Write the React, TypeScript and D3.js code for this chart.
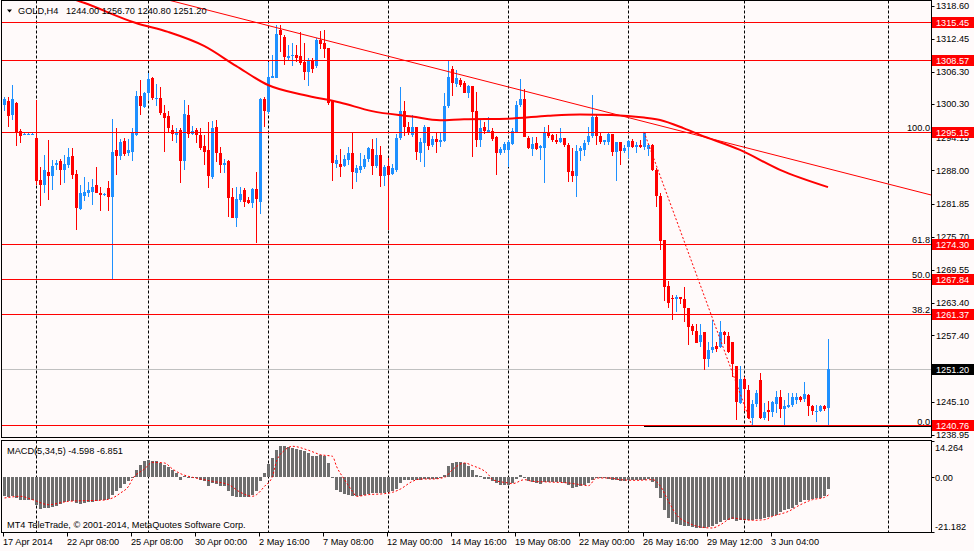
import React from 'react';
import * as d3 from 'd3';

// GOLD H4, 17 Apr - 4 Jun 2014, one entry per bar
const OPEN = [
  1300.1, 1300.9, 1298.3, 1300.6, 1295.4, 1294.8, 1294.8, 1294.8, 1294.0, 1286.2,
  1285.3, 1287.7, 1287.0, 1289.0, 1289.8, 1288.1, 1289.0, 1290.7, 1287.3, 1280.9,
  1283.3, 1283.8, 1284.0, 1285.3, 1283.8, 1283.6, 1284.8, 1283.1, 1291.8, 1290.7,
  1293.5, 1291.3, 1291.4, 1294.6, 1301.8, 1299.8, 1302.3, 1305.1, 1301.4, 1301.4,
  1298.7, 1298.1, 1295.5, 1294.5, 1295.5, 1289.8, 1298.3, 1294.8, 1295.5, 1294.5,
  1292.5, 1291.8, 1286.7, 1296.0, 1291.3, 1289.1, 1289.8, 1283.1, 1279.2, 1282.5,
  1284.4, 1282.5, 1282.0, 1284.5, 1282.2, 1301.3, 1298.9, 1305.1, 1305.2, 1314.1,
  1312.8, 1308.8, 1309.2, 1309.4, 1309.2, 1308.2, 1306.3, 1308.5, 1307.4, 1312.2,
  1311.6, 1310.7, 1300.9, 1289.2, 1289.2, 1288.9, 1289.9, 1291.3, 1287.6, 1288.1,
  1288.7, 1290.1, 1292.0, 1288.8, 1290.9, 1287.0, 1288.8, 1287.3, 1288.1, 1294.0,
  1299.0, 1296.1, 1294.6, 1296.1, 1291.3, 1293.0, 1296.1, 1292.7, 1293.8, 1293.3,
  1293.5, 1300.0, 1306.8, 1304.0, 1304.8, 1304.2, 1302.4, 1303.6, 1299.1, 1293.7,
  1296.0, 1295.2, 1295.4, 1294.2, 1291.2, 1291.8, 1291.8, 1292.9, 1295.2, 1300.1,
  1301.2, 1294.0, 1291.9, 1293.0, 1292.1, 1292.1, 1295.2, 1294.5, 1293.7, 1293.2,
  1294.1, 1292.7, 1287.9, 1287.0, 1291.6, 1291.8, 1293.2, 1294.3, 1298.0, 1294.3,
  1293.3, 1293.2, 1294.7, 1291.5, 1293.3, 1291.6, 1292.4, 1293.5, 1292.3, 1292.7,
  1292.4, 1292.0, 1292.7, 1288.1, 1283.3, 1275.1, 1266.6, 1264.4, 1264.1, 1264.6,
  1264.1, 1262.4, 1259.1, 1258.3, 1256.2, 1258.1, 1253.0, 1254.7, 1255.4, 1255.3,
  1258.1, 1257.3, 1256.2, 1251.7, 1244.8, 1249.3, 1247.3, 1242.0, 1244.7, 1249.1,
  1242.0, 1243.6, 1243.1, 1244.7, 1246.0, 1243.7, 1244.2, 1244.5, 1245.4, 1246.0,
  1245.6, 1246.3, 1244.3, 1243.3, 1243.3, 1244.3, 1244.0,
];
const HIGH = [
  1301.7, 1301.6, 1303.9, 1300.7, 1295.7, 1294.9, 1294.9, 1294.9, 1301.1, 1288.6,
  1290.9, 1293.7, 1289.9, 1289.9, 1290.1, 1290.9, 1292.1, 1292.1, 1288.1, 1285.3,
  1286.7, 1285.9, 1286.5, 1288.6, 1285.0, 1283.9, 1286.1, 1297.6, 1295.8, 1293.8,
  1294.0, 1293.8, 1295.8, 1302.8, 1304.7, 1302.6, 1306.0, 1305.4, 1304.0, 1303.4,
  1300.1, 1299.1, 1296.4, 1295.8, 1295.8, 1301.1, 1300.1, 1296.2, 1295.8, 1295.8,
  1294.5, 1296.9, 1297.2, 1297.4, 1292.4, 1290.1, 1289.9, 1284.7, 1284.9, 1284.9,
  1284.7, 1283.0, 1284.7, 1287.8, 1301.4, 1301.7, 1308.1, 1309.4, 1315.0, 1315.0,
  1313.1, 1311.3, 1311.6, 1311.3, 1313.6, 1311.6, 1308.8, 1308.8, 1312.5, 1313.8,
  1314.1, 1310.7, 1301.1, 1290.9, 1292.0, 1290.9, 1292.4, 1295.1, 1289.0, 1291.3,
  1290.9, 1292.4, 1293.8, 1294.0, 1292.6, 1289.0, 1290.3, 1289.2, 1294.7, 1303.5,
  1300.8, 1297.0, 1298.3, 1296.1, 1294.0, 1296.4, 1296.1, 1294.3, 1295.2, 1295.2,
  1302.3, 1308.5, 1307.3, 1306.6, 1305.1, 1304.5, 1303.9, 1303.6, 1302.6, 1297.4,
  1297.0, 1297.9, 1295.8, 1294.3, 1292.3, 1293.3, 1293.7, 1295.8, 1300.8, 1304.9,
  1303.1, 1294.3, 1294.2, 1294.2, 1292.7, 1296.1, 1296.4, 1294.7, 1294.7, 1295.8,
  1294.1, 1293.0, 1292.1, 1292.7, 1292.6, 1293.7, 1296.1, 1302.0, 1298.3, 1294.9,
  1293.7, 1294.9, 1294.7, 1293.3, 1293.3, 1292.7, 1293.7, 1293.8, 1293.3, 1293.7,
  1295.0, 1292.9, 1292.9, 1288.4, 1283.8, 1275.1, 1267.4, 1264.9, 1264.9, 1264.6,
  1266.4, 1262.4, 1259.6, 1259.6, 1259.6, 1258.1, 1256.2, 1260.3, 1256.2, 1260.1,
  1258.3, 1258.1, 1256.2, 1251.7, 1251.7, 1249.7, 1248.2, 1245.4, 1247.3, 1250.4,
  1244.8, 1245.3, 1245.3, 1247.0, 1247.3, 1245.4, 1246.7, 1246.7, 1246.7, 1246.2,
  1248.8, 1246.5, 1244.5, 1244.5, 1244.5, 1244.5, 1256.7,
];
const LOW = [
  1299.1, 1296.0, 1297.4, 1292.6, 1293.0, 1294.6, 1294.7, 1294.7, 1285.3, 1281.4,
  1283.9, 1282.5, 1284.4, 1288.1, 1285.3, 1285.6, 1288.4, 1286.5, 1277.0, 1280.7,
  1282.3, 1283.1, 1281.6, 1283.8, 1280.4, 1283.3, 1280.5, 1267.9, 1287.2, 1289.9,
  1290.6, 1290.7, 1289.8, 1294.3, 1298.2, 1299.5, 1301.1, 1301.1, 1300.0, 1298.3,
  1291.5, 1294.9, 1293.5, 1293.1, 1285.7, 1288.0, 1294.0, 1294.5, 1293.0, 1291.8,
  1289.0, 1284.7, 1286.5, 1289.6, 1287.5, 1287.5, 1279.3, 1279.1, 1277.5, 1282.2,
  1281.3, 1281.7, 1281.1, 1274.5, 1279.9, 1296.1, 1298.4, 1305.1, 1305.1, 1310.0,
  1307.6, 1308.5, 1307.4, 1308.2, 1307.6, 1304.8, 1303.7, 1306.0, 1307.0, 1310.5,
  1308.9, 1300.1, 1286.0, 1288.5, 1286.7, 1288.7, 1289.0, 1284.5, 1285.9, 1287.6,
  1288.3, 1289.6, 1287.2, 1288.4, 1285.0, 1285.2, 1277.0, 1287.2, 1287.8, 1293.7,
  1294.3, 1294.5, 1294.2, 1289.9, 1289.6, 1288.6, 1291.8, 1292.3, 1291.2, 1292.4,
  1293.3, 1299.6, 1301.8, 1303.5, 1303.5, 1302.3, 1301.4, 1290.4, 1292.4, 1292.3,
  1294.8, 1295.0, 1293.5, 1287.2, 1290.9, 1291.3, 1288.7, 1292.7, 1295.0, 1299.8,
  1294.2, 1291.9, 1290.6, 1291.8, 1289.9, 1285.6, 1294.0, 1293.3, 1292.9, 1293.0,
  1292.4, 1285.8, 1285.9, 1283.0, 1289.8, 1290.6, 1292.7, 1294.0, 1292.7, 1292.9,
  1292.7, 1292.7, 1290.6, 1286.1, 1289.0, 1291.2, 1290.3, 1292.1, 1291.2, 1292.1,
  1291.8, 1290.6, 1287.9, 1281.3, 1273.3, 1263.8, 1262.4, 1260.3, 1261.8, 1263.2,
  1259.9, 1255.6, 1257.5, 1255.9, 1255.3, 1251.0, 1251.5, 1254.1, 1254.4, 1255.0,
  1255.8, 1254.1, 1249.7, 1241.7, 1244.7, 1243.3, 1241.8, 1240.8, 1244.2, 1241.8,
  1241.7, 1241.6, 1242.2, 1243.0, 1242.0, 1240.8, 1243.9, 1244.2, 1244.7, 1245.1,
  1245.1, 1242.5, 1242.6, 1241.4, 1243.1, 1243.4, 1240.8,
];
const CLOSE = [
  1301.2, 1298.1, 1301.3, 1295.1, 1294.4, 1294.8, 1294.8, 1294.8, 1286.1, 1285.3,
  1288.0, 1287.0, 1288.8, 1289.4, 1288.0, 1289.2, 1290.4, 1287.2, 1281.1, 1283.9,
  1284.0, 1284.4, 1284.9, 1283.9, 1283.4, 1283.6, 1283.0, 1291.5, 1290.7, 1293.3,
  1291.1, 1291.8, 1294.9, 1301.8, 1300.0, 1302.3, 1305.0, 1301.4, 1301.5, 1298.7,
  1297.8, 1295.9, 1294.7, 1295.2, 1289.8, 1298.5, 1294.8, 1295.3, 1294.5, 1292.2,
  1291.5, 1286.9, 1295.9, 1291.2, 1289.0, 1289.4, 1282.9, 1279.2, 1282.7, 1283.6,
  1282.2, 1282.0, 1284.5, 1282.7, 1301.3, 1299.0, 1305.4, 1305.6, 1313.4, 1313.1,
  1309.1, 1309.2, 1309.4, 1308.9, 1308.0, 1306.3, 1308.3, 1306.8, 1312.2, 1311.4,
  1310.5, 1300.5, 1289.4, 1289.9, 1288.7, 1290.1, 1291.3, 1287.7, 1288.4, 1288.9,
  1290.1, 1292.1, 1288.8, 1290.9, 1287.0, 1288.7, 1287.2, 1288.4, 1294.0, 1299.0,
  1296.1, 1294.9, 1296.1, 1291.5, 1293.3, 1296.1, 1292.5, 1293.8, 1293.3, 1293.7,
  1300.0, 1305.4, 1304.2, 1305.1, 1303.9, 1302.4, 1303.7, 1298.9, 1293.7, 1295.8,
  1295.4, 1295.5, 1293.8, 1291.2, 1292.0, 1292.9, 1293.3, 1295.3, 1300.1, 1301.2,
  1294.2, 1292.1, 1292.9, 1292.0, 1292.5, 1295.0, 1294.3, 1293.7, 1293.2, 1294.1,
  1292.7, 1287.8, 1287.0, 1291.6, 1292.1, 1293.0, 1294.3, 1298.0, 1294.3, 1293.2,
  1293.6, 1294.7, 1291.5, 1293.3, 1291.6, 1292.2, 1293.5, 1292.4, 1292.7, 1292.4,
  1295.0, 1292.7, 1288.1, 1283.3, 1274.9, 1266.4, 1263.4, 1264.1, 1264.6, 1264.2,
  1262.4, 1259.0, 1258.3, 1256.0, 1257.5, 1253.0, 1254.7, 1255.3, 1254.9, 1258.1,
  1257.5, 1254.4, 1252.1, 1245.1, 1249.3, 1247.4, 1242.0, 1244.7, 1246.7, 1242.0,
  1243.1, 1243.1, 1245.1, 1245.9, 1243.7, 1244.3, 1244.5, 1245.9, 1246.0, 1245.4,
  1246.5, 1244.3, 1243.3, 1243.4, 1244.3, 1243.7, 1251.2,
];

// MACD(5,34,5) histogram, one value per bar
const MACD_HIST = [
  -7.40, -7.66, -7.40, -8.05, -8.70, -8.96, -8.96, -8.96, -10.65, -12.34,
  -12.08, -11.95, -11.56, -11.04, -10.26, -9.74, -9.35, -9.35, -10.00, -10.26,
  -10.00, -9.74, -9.48, -9.22, -8.96, -8.70, -8.44, -6.75, -5.45, -4.16,
  -2.47, -1.56, 0.13, 2.73, 4.94, 6.23, 6.88, 6.49, 6.23, 5.58,
  4.94, 4.03, 2.99, 1.69, -1.17, 0.39, 0.13, 0.00, -0.39, -0.91,
  -1.56, -3.25, -2.21, -2.47, -3.25, -3.51, -5.45, -7.40, -7.79, -7.79,
  -7.66, -7.66, -6.75, -5.45, -1.56, 1.69, 5.32, 7.53, 10.78, 12.34,
  12.34, 11.82, 11.43, 11.04, 10.52, 10.13, 9.48, 8.18, 8.44, 8.83,
  8.18, 5.58, -0.26, -4.81, -5.84, -6.36, -6.75, -7.14, -7.40, -7.14,
  -6.75, -6.36, -6.10, -6.10, -6.10, -6.10, -5.84, -5.45, -4.55, -2.21,
  -1.17, -0.91, -0.91, -1.17, -0.91, -0.65, -0.65, -0.65, -0.65, -0.26,
  1.04, 4.29, 5.58, 5.97, 5.84, 5.58, 4.55, 2.99, 1.04, 0.39,
  -0.65, -0.65, -1.56, -2.21, -2.86, -2.86, -2.86, -2.21, -0.65, 1.04,
  -0.26, -1.56, -1.95, -2.21, -2.47, -1.95, -1.95, -1.95, -1.95, -1.95,
  -2.21, -2.86, -4.16, -3.77, -3.25, -2.86, -2.21, -0.91, -0.26, -0.26,
  -0.26, -0.65, -1.17, -1.17, -1.56, -1.56, -1.17, -1.17, -0.91, -0.91,
  -0.91, -0.65, -1.95, -4.16, -8.05, -12.60, -15.84, -17.53, -18.05, -18.44,
  -18.83, -19.09, -19.35, -19.74, -19.74, -19.87, -19.48, -18.83, -18.05, -17.53,
  -16.75, -16.49, -16.23, -17.14, -16.75, -16.49, -16.75, -16.49, -16.23, -16.23,
  -15.84, -15.45, -14.94, -14.55, -13.64, -12.86, -12.34, -11.95, -10.65, -9.74,
  -8.96, -8.70, -8.44, -8.05, -8.05, -7.40, -4.598,
];

// signal line, read at [bar, value]
const MACD_SIGNAL: [number, number][] = [
  [0, -8.05], [4, -7.4], [7, -8.7], [11, -10.65], [16, -9.35], [20, -9.09], [24, -8.96],
  [27, -8.05], [29, -6.1], [31, -3.51], [32, -0.65], [35, 3.25], [37, 5.84], [40, 5.58],
  [42, 3.25], [44, 1.43], [47, 0], [49, -0.65], [52, -1.56], [56, -2.86], [59, -5.84],
  [62, -7.4], [63, -6.75], [65, -3.51], [67, 0.39], [68, 6.23], [70, 10.52], [72, 12.08],
  [76, 10.52], [79, 8.83], [82, 8.18], [83, 4.29], [85, -0.91], [87, -5.45], [88, -7.4],
  [91, -6.75], [95, -6.36], [97, -5.84], [99, -4.55], [102, -1.56], [104, -0.65], [107, -0.65],
  [110, 0], [112, 2.99], [115, 5.58], [117, 4.55], [121, 1.04], [122, -0.91], [126, -2.21],
  [127, -2.47], [130, -0.91], [132, -1.56], [136, -1.82], [141, -2.21], [144, -2.86], [146, -3.25],
  [148, -0.26], [151, -0.26], [154, -0.91], [158, -1.17], [162, -0.91], [164, -3.51], [166, -9.35],
  [168, -14.55], [171, -17.79], [174, -19.35], [177, -19.74], [179, -18.44], [182, -15.84],
  [184, -16.23], [187, -16.75], [190, -16.49], [192, -15.19], [196, -13.25], [199, -10.65],
  [202, -8.7], [205, -7.79], [206, -6.851],
];

// moving average, read at [bar, price]
const MA_POINTS: [number, number][] = [
  [0, 1323.7], [20, 1319.1], [33, 1315.35], [41, 1313.7], [50, 1311.1],
  [58, 1307.4], [66, 1303.85], [75, 1302.0], [84, 1300.6],
  [92, 1299.0], [102, 1298.0], [109, 1297.3], [115, 1297.5], [126, 1297.6], [136, 1298.15],
  [144, 1298.4], [152, 1298.3], [160, 1297.8], [164, 1297.35], [170, 1295.8], [174, 1294.6],
  [184, 1291.8], [194, 1288.1], [206, 1284.9],
];

const TREND_LINE: [number, number][] = [[67, 1314.7], [232, 1283.4]];
const FIBO_START: [number, number] = [160, 1295.15];
const FIBO_END: [number, number] = [187, 1240.6];
const FIBO_LEVELS = [0, 38.2, 50, 61.8, 100];

const LEVEL_LINES = [1315.45, 1308.57, 1295.15, 1274.3, 1267.84, 1261.37, 1240.76];
const BID = 1251.2;

const PRICE_TICKS = [
  1318.6, 1312.45, 1306.3, 1300.3, 1294.15, 1288.0, 1281.85,
  1275.7, 1269.55, 1263.4, 1257.4, 1245.1, 1238.95,
];
const MACD_TICKS = [14.264, 0, -21.182];
const MACD_TICK_LABELS = ['14.264', '0.00', '-21.182'];

const GRID_BARS = [8, 36, 66, 96, 126, 156, 185, 221];
const TIME_BARS = [0, 16, 32, 48, 64, 80, 96, 112, 128, 144, 160, 176, 192];
const TIME_LABELS = [
  '17 Apr 2014', '22 Apr 08:00', '25 Apr 08:00', '30 Apr 00:00', '2 May 16:00',
  '7 May 08:00', '12 May 00:00', '14 May 16:00', '19 May 08:00', '22 May 00:00',
  '26 May 16:00', '29 May 12:00', '3 Jun 04:00',
];

const W = 974;
const H = 551;
const PLOT_LEFT = 1.5;
const PLOT_RIGHT = 931.5;
const MAIN_TOP = 0.5;
const MAIN_BOTTOM = 437.5;
const MACD_TOP = 440.5;
const MACD_BOTTOM = 532.5;

const BULL = '#1E90FF';
const BEAR = '#FF0000';
const BG = '#FFFAFA';
const FONT = '"Liberation Sans", Arial, sans-serif';
const FS = 9.2;

export default function App() {
  const n = CLOSE.length;
  const x = d3.scaleLinear().domain([0, n - 1]).range([4, 4 + 4 * (n - 1)]);
  const y = d3.scaleLinear().domain([1238.95, 1318.6]).range([434.8, 5.5]);
  const ym = d3.scaleLinear().domain([-21.182, 14.264]).range([531.7, 440.7]);
  const snap = (v: number) => Math.round(v) + 0.5;

  const maLine = d3.line<[number, number]>().x((d) => x(d[0])).y((d) => y(d[1])).curve(d3.curveMonotoneX);
  const sigLine = d3.line<[number, number]>().x((d) => x(d[0]) + 0.5).y((d) => ym(d[1])).curve(d3.curveMonotoneX);

  const trend = d3.scaleLinear().domain([TREND_LINE[0][0], TREND_LINE[1][0]]).range([TREND_LINE[0][1], TREND_LINE[1][1]]);
  const trendPts: [number, number][] = [0, TREND_LINE[1][0]].map((b) => [b, trend(b)]);

  const fibo = d3.interpolateNumber(FIBO_END[1], FIBO_START[1]);
  const zero = Math.round(ym(0));

  return (
    <div>
      <style>{`body{margin:0;background:${BG}}`}</style>
      <svg width={W} height={H} style={{ display: 'block', background: BG }} fontFamily={FONT} fontSize={FS}>
        <defs>
          <clipPath id="main-clip">
            <rect x={PLOT_LEFT + 0.5} y={MAIN_TOP + 0.5} width={PLOT_RIGHT - PLOT_LEFT - 1} height={MAIN_BOTTOM - MAIN_TOP - 1} />
          </clipPath>
          <clipPath id="macd-clip">
            <rect x={PLOT_LEFT + 0.5} y={MACD_TOP + 0.5} width={PLOT_RIGHT - PLOT_LEFT - 1} height={MACD_BOTTOM - MACD_TOP - 1} />
          </clipPath>
        </defs>

        {/* vertical grid */}
        {GRID_BARS.map((b) => (
          <g key={b} stroke="#000" strokeDasharray="3,2" strokeWidth={1}>
            <line x1={x(b) + 0.5} x2={x(b) + 0.5} y1={MAIN_TOP} y2={MAIN_BOTTOM} />
            <line x1={x(b) + 0.5} x2={x(b) + 0.5} y1={MACD_TOP} y2={MACD_BOTTOM} />
          </g>
        ))}

        <g clipPath="url(#main-clip)">
          {/* fibo levels */}
          {FIBO_LEVELS.map((lv) => (
            <line key={lv} x1={x(FIBO_START[0])} x2={PLOT_RIGHT} y1={snap(y(fibo(lv / 100)))} y2={snap(y(fibo(lv / 100)))} stroke="#000" strokeWidth={1} />
          ))}

          {/* bid line */}
          <line x1={PLOT_LEFT} x2={PLOT_RIGHT} y1={snap(y(BID))} y2={snap(y(BID))} stroke="#C0C0C0" strokeWidth={1} />

          {/* candles */}
          {CLOSE.map((c, i) => {
            const o = OPEN[i];
            const col = c >= o ? BULL : BEAR;
            const cx = Math.round(x(i));
            const wt = Math.round(y(HIGH[i]));
            const wb = Math.round(y(LOW[i]));
            const bt = Math.round(y(Math.max(o, c)));
            const bb = Math.round(y(Math.min(o, c)));
            return (
              <g key={i} fill={col}>
                <rect x={cx} y={wt} width={1} height={Math.max(1, wb - wt)} />
                <rect x={cx - 1} y={bt} width={3} height={Math.max(1, bb - bt)} />
              </g>
            );
          })}

          {/* moving average */}
          <path d={maLine(MA_POINTS) ?? ''} fill="none" stroke="#FF0000" strokeWidth={2} />

          {/* horizontal levels */}
          {LEVEL_LINES.map((p) => (
            <line key={p} x1={PLOT_LEFT} x2={PLOT_RIGHT} y1={snap(y(p))} y2={snap(y(p))} stroke="#FF0000" strokeWidth={1} />
          ))}

          {/* trend line */}
          <line x1={x(trendPts[0][0])} y1={y(trendPts[0][1])} x2={x(trendPts[1][0])} y2={y(trendPts[1][1])} stroke="#FF0000" strokeWidth={1} />

          {/* fibo diagonal */}
          <line x1={x(FIBO_START[0])} y1={y(FIBO_START[1])} x2={x(FIBO_END[0])} y2={y(FIBO_END[1])} stroke="#FF0000" strokeWidth={1} strokeDasharray="2,2" />

          {FIBO_LEVELS.map((lv) => (
            <text key={lv} x={PLOT_RIGHT - 1.5} y={Math.round(y(fibo(lv / 100))) - 1.5} textAnchor="end" fill="#000">
              {lv.toFixed(1)}
            </text>
          ))}
        </g>

        {/* MACD panel */}
        <g clipPath="url(#macd-clip)">
          {MACD_HIST.map((v, i) => {
            const vy = Math.round(ym(v));
            return (
              <rect key={i} x={Math.round(x(i)) - 1} y={Math.min(vy, zero)} width={3} height={Math.max(1, Math.abs(vy - zero))} fill="#6E6E6E" />
            );
          })}
          <path d={sigLine(MACD_SIGNAL) ?? ''} fill="none" stroke="#FF0000" strokeWidth={1} strokeDasharray="2,2" />
        </g>

        {/* panel frames */}
        <rect x={PLOT_LEFT} y={MAIN_TOP} width={PLOT_RIGHT - PLOT_LEFT} height={MAIN_BOTTOM - MAIN_TOP} fill="none" stroke="#000" />
        <rect x={PLOT_LEFT} y={MACD_TOP} width={PLOT_RIGHT - PLOT_LEFT} height={MACD_BOTTOM - MACD_TOP} fill="none" stroke="#000" />

        {/* price axis */}
        {PRICE_TICKS.map((p) => (
          <g key={p}>
            <line x1={PLOT_RIGHT} x2={PLOT_RIGHT + 3} y1={snap(y(p))} y2={snap(y(p))} stroke="#000" />
            <text x={936} y={y(p)} dy="0.35em" fill="#000">{p.toFixed(2)}</text>
          </g>
        ))}
        {LEVEL_LINES.map((p) => (
          <g key={p}>
            <rect x={932} y={Math.round(y(p)) - 5} width={W - 932} height={11} fill="#FF0000" />
            <text x={936} y={Math.round(y(p)) + 0.5} dy="0.35em" fill="#FFF">{p.toFixed(2)}</text>
          </g>
        ))}
        <rect x={932} y={Math.round(y(BID)) - 5} width={W - 932} height={11} fill="#000" />
        <text x={936} y={Math.round(y(BID)) + 0.5} dy="0.35em" fill="#FFF">{BID.toFixed(2)}</text>

        {/* macd axis */}
        {MACD_TICKS.map((v, k) => (
          <g key={v}>
            <line x1={PLOT_RIGHT} x2={PLOT_RIGHT + 3} y1={snap(ym(v))} y2={snap(ym(v))} stroke="#000" />
            <text x={935} y={k === 0 ? ym(v) + 10.5 : k === 2 ? ym(v) - 1.5 : ym(v)} dy={k === 1 ? '0.35em' : 0} fill="#000">
              {MACD_TICK_LABELS[k]}
            </text>
          </g>
        ))}

        {/* time axis */}
        {TIME_BARS.map((b, k) => (
          <g key={b}>
            <line x1={x(b) - 0.5} x2={x(b) - 0.5} y1={MACD_BOTTOM} y2={MACD_BOTTOM + 4} stroke="#000" />
            <text x={x(b) - 1} y={545} fill="#000">{TIME_LABELS[k]}</text>
          </g>
        ))}

        {/* header */}
        <path d="M7,9.5 L12,9.5 L9.5,12.5 Z" fill="#000" />
        <text x={18} y={14} fill="#000">GOLD,H4</text>
        <text x={66} y={14} fill="#000">
          {`${OPEN[n - 1].toFixed(2)} ${HIGH[n - 1].toFixed(2)} ${LOW[n - 1].toFixed(2)} ${CLOSE[n - 1].toFixed(2)}`}
        </text>
        <text x={7} y={453.5} fill="#000">
          {`MACD(5,34,5) ${MACD_HIST[n - 1].toFixed(3)} ${MACD_SIGNAL[MACD_SIGNAL.length - 1][1].toFixed(3)}`}
        </text>
        <text x={7} y={527.5} fill="#000">MT4 TeleTrade, © 2001-2014, MetaQuotes Software Corp.</text>
      </svg>
    </div>
  );
}
